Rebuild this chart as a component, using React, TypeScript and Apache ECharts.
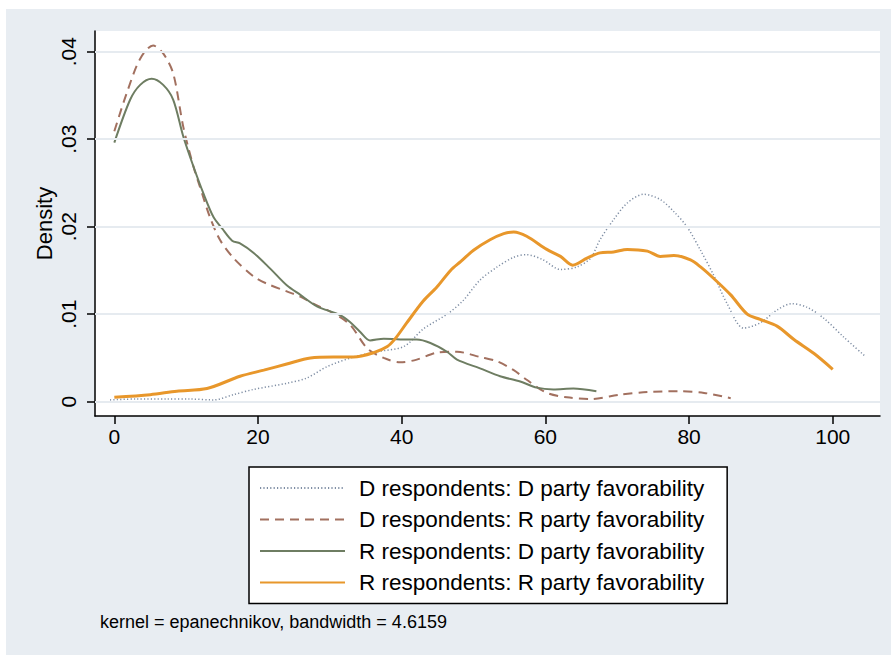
import React, { useEffect, useRef } from "react";
import * as echarts from "echarts";

const seriesNames = [
  "D respondents: D party favorability",
  "D respondents: R party favorability",
  "R respondents: D party favorability",
  "R respondents: R party favorability",
];

const ddX = [-0.6, 3, 7.3, 10.5, 13.8, 16.6, 19.4, 24.0, 26.8, 29.6, 33.3, 36.5, 40.3, 43.0, 46.5, 48.6, 50.9, 53.3, 55.6, 57.4, 59.7, 62.1, 64.4, 66.3, 67.6, 69.5, 71.4, 73.7, 76.0, 77.9, 79.7, 81.6, 83.4, 85.3, 87.6, 89.9, 92.3, 94.3, 96.4, 98.8, 101.5, 104.5];
const ddY = [0.0002, 0.0003, 0.0003, 0.0003, 0.0002, 0.0008, 0.0014, 0.0021, 0.0027, 0.004, 0.0051, 0.0057, 0.0063, 0.0083, 0.0101, 0.0116, 0.0139, 0.0154, 0.0165, 0.0168, 0.0162, 0.0151, 0.0154, 0.0164, 0.0185, 0.0208, 0.0227, 0.0237, 0.0231, 0.0217, 0.02, 0.0173, 0.0145, 0.0112, 0.0084, 0.009, 0.0105, 0.0112, 0.0108, 0.0095, 0.0074, 0.0052];

const drX = [0, 1.7, 3.6, 5.4, 6.8, 8.2, 9.6, 11.0, 11.9, 13.3, 14.7, 16.6, 19.4, 21.2, 24.0, 25.9, 27.7, 30.5, 32.8, 35.2, 37.5, 39.8, 42.1, 44.9, 47.7, 50.9, 53.3, 55.6, 57.4, 60.2, 63.0, 66.3, 70.4, 74.2, 78.8, 82.1, 85.8];
const drY = [0.0309, 0.0352, 0.0392, 0.0407, 0.0398, 0.0375, 0.0314, 0.0269, 0.0246, 0.0211, 0.0185, 0.0164, 0.0143, 0.0135, 0.0126, 0.012, 0.0112, 0.0101, 0.0088, 0.0061, 0.005, 0.0045, 0.0048, 0.0056, 0.0057, 0.0051, 0.0046, 0.0036, 0.0025, 0.001, 0.0005, 0.0003, 0.0008, 0.0011, 0.0012, 0.001, 0.0004];

const rdX = [0, 2.2, 3.6, 5.2, 6.8, 8.2, 9.6, 11.0, 12.4, 13.8, 15.0, 16.4, 17.5, 19.4, 21.7, 24.0, 25.9, 28.2, 31.4, 32.8, 34.2, 35.6, 37.5, 39.8, 42.1, 44.0, 46.3, 47.7, 50.9, 53.7, 56.5, 58.8, 61.1, 63.9, 67.1];
const rdY = [0.0296, 0.0345, 0.0362, 0.0369, 0.0362, 0.0345, 0.0303, 0.0269, 0.0238, 0.0211, 0.0198, 0.0184, 0.0181, 0.017, 0.0152, 0.0133, 0.0122, 0.0109, 0.0099, 0.0091, 0.008, 0.007, 0.0072, 0.0071, 0.0071, 0.0067, 0.0057, 0.0048, 0.0038, 0.0029, 0.0023, 0.0016, 0.0014, 0.0015, 0.0012];

const rrX = [0, 5.0, 8.7, 12.9, 17.5, 20.8, 24.0, 27.3, 30.5, 33.3, 36.1, 38.0, 39.1, 40.7, 43.0, 44.9, 46.8, 48.2, 50.0, 52.3, 54.2, 55.6, 57.4, 60.2, 62.1, 63.8, 65.8, 67.6, 69.5, 71.4, 74.2, 76.0, 77.9, 80.2, 81.6, 83.4, 85.8, 88.1, 89.9, 92.3, 94.6, 97.4, 100];
const rrY = [0.0005, 0.0008, 0.0012, 0.0015, 0.0029, 0.0036, 0.0043, 0.005, 0.0051, 0.0051, 0.0056, 0.0063, 0.0072, 0.009, 0.0115, 0.0131, 0.015, 0.016, 0.0173, 0.0185, 0.0192, 0.0194, 0.0189, 0.0174, 0.0166, 0.0156, 0.0164, 0.017, 0.0171, 0.0174, 0.0172, 0.0166, 0.0167, 0.0162, 0.0154, 0.0141, 0.0122, 0.01, 0.0094, 0.0086, 0.0071, 0.0055, 0.0037];

const xTicks = [0, 20, 40, 60, 80, 100];
const yTicks = [0, 0.01, 0.02, 0.03, 0.04];
const yTickLabels = ["0", ".01", ".02", ".03", ".04"];
const yAxisTitle = "Density";
const noteText = "kernel = epanechnikov, bandwidth = 4.6159";

const FONT = "'Liberation Sans', Arial, Helvetica, sans-serif";

const zip = (xs: number[], ys: number[]) => xs.map((x, i) => [x, ys[i]]);

export default function App() {
  const ref = useRef<HTMLDivElement>(null);
  useEffect(() => {
    if (!ref.current) return;
    const chart = echarts.init(ref.current, undefined, { renderer: "svg" });
    const lineStyles = [
      { color: "#7f8ea4", width: 1.5, type: [1.2, 2.2] as any },
      { color: "#a2705f", width: 2, type: [9, 6] as any },
      { color: "#6e7d62", width: 2, type: "solid" as any },
      { color: "#e8972b", width: 3, type: "solid" as any },
    ];
    const datas = [zip(ddX, ddY), zip(drX, drY), zip(rdX, rdY), zip(rrX, rrY)];
    const series: any[] = [
      {
        name: "__grid",
        type: "line",
        data: [],
        silent: true,
        z: 1,
        markLine: {
          silent: true,
          symbol: ["none", "none"],
          label: { show: false },
          lineStyle: { color: "#e6ebf0", width: 2, type: "solid" },
          data: yTicks.map((v) => ({ yAxis: v })),
        },
      },
    ];
    seriesNames.forEach((name, i) => {
      series.push({
        name,
        type: "line",
        data: datas[i],
        showSymbol: false,
        symbol: "none",
        smooth: 0.3,
        z: 2 + i,
        lineStyle: lineStyles[i],
        itemStyle: { color: lineStyles[i].color },
      });
    });
    chart.setOption({
      animation: false,
      backgroundColor: "#e8edf2",
      grid: { left: 89, top: 22, width: 785, height: 385, show: true, backgroundColor: "#ffffff", borderWidth: 0 },
      xAxis: {
        type: "value",
        min: -2.69,
        max: 106.58,
        axisLine: { show: true, onZero: false, lineStyle: { color: "#000", width: 1.5 } },
        axisTick: { show: true, length: 8, customValues: xTicks, lineStyle: { color: "#000", width: 1.5 } },
        axisLabel: {
          customValues: xTicks,
          margin: 10,
          fontSize: 21,
          color: "#000",
          fontFamily: FONT,
        },
        splitLine: { show: false },
      },
      yAxis: {
        type: "value",
        min: -0.00164,
        max: 0.04236,
        name: yAxisTitle,
        nameLocation: "middle",
        nameGap: 40,
        nameMoveOverlap: false,
        nameTextStyle: { fontSize: 22, color: "#000", fontFamily: FONT },
        axisLine: { show: true, onZero: false, lineStyle: { color: "#000", width: 1.5 } },
        axisTick: { show: true, length: 8, customValues: yTicks, lineStyle: { color: "#000", width: 1.5 } },
        axisLabel: {
          customValues: yTicks,
          rotate: 90,
          margin: 16,
          fontSize: 21,
          color: "#000",
          fontFamily: FONT,
          formatter: (v: number) => {
            const idx = yTicks.findIndex((t) => Math.abs(t - v) < 1e-9);
            return idx >= 0 ? yTickLabels[idx] : "";
          },
        },
        splitLine: { show: false },
      },
      legend: {
        data: seriesNames,
        orient: "vertical",
        left: 243,
        top: 458,
        padding: [9, 23, 9, 10],
        itemWidth: 85,
        itemHeight: 24,
        itemGap: 7.5,
        selectedMode: false,
        backgroundColor: "#ffffff",
        borderColor: "#000",
        borderWidth: 1.5,
        borderRadius: 0,
        itemStyle: { color: "transparent", borderWidth: 0, opacity: 0 },
        textStyle: { fontSize: 22.5, lineHeight: 24, color: "#000", fontFamily: FONT, padding: [0, 0, 0, 9] },
      },
      graphic: [
        {
          type: "text",
          left: 94,
          top: 604,
          style: { text: noteText, fontSize: 18, fill: "#000", fontFamily: FONT },
        },
      ],
      series,
    });
    return () => chart.dispose();
  }, []);
  return (
    <div
      ref={ref}
      style={{ position: "absolute", left: 6, top: 9, width: 885, height: 646 }}
    />
  );
}
